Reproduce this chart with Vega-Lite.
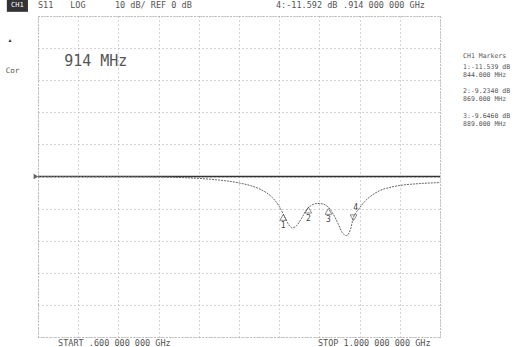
{
  "$schema": "https://vega.github.io/schema/vega-lite/v6.json",
  "autosize": {"type": "none"},
  "width": 402,
  "height": 321,
  "padding": {"left": 38, "top": 16, "right": 80, "bottom": 10},
  "background": "white",
  "config": {"view": {"stroke": "#999", "strokeDash": [1, 2]}},
  "datasets": {
    "trace": [
      {"f": 0.60, "db": 0}, {"f": 0.66, "db": -0.05}, {"f": 0.70, "db": -0.1}, {"f": 0.74, "db": -0.3},
      {"f": 0.76, "db": -0.6}, {"f": 0.78, "db": -1.1}, {"f": 0.80, "db": -2.0}, {"f": 0.815, "db": -3.2},
      {"f": 0.825, "db": -4.6}, {"f": 0.833, "db": -6.5}, {"f": 0.840, "db": -9.3}, {"f": 0.845, "db": -12.3},
      {"f": 0.849, "db": -14.8}, {"f": 0.853, "db": -16.0}, {"f": 0.857, "db": -15.4}, {"f": 0.862, "db": -13.2},
      {"f": 0.867, "db": -10.4}, {"f": 0.872, "db": -9.0}, {"f": 0.878, "db": -8.4}, {"f": 0.884, "db": -8.6},
      {"f": 0.889, "db": -9.6}, {"f": 0.894, "db": -11.8}, {"f": 0.899, "db": -15.0}, {"f": 0.903, "db": -17.6},
      {"f": 0.907, "db": -18.4}, {"f": 0.911, "db": -16.4}, {"f": 0.914, "db": -12.6}, {"f": 0.917, "db": -11.0},
      {"f": 0.920, "db": -9.8}, {"f": 0.925, "db": -7.8}, {"f": 0.930, "db": -6.4}, {"f": 0.940, "db": -4.4},
      {"f": 0.950, "db": -3.4}, {"f": 0.960, "db": -2.8}, {"f": 0.980, "db": -2.2}, {"f": 1.00, "db": -1.9}
    ],
    "markers": [
      {"f": 0.844, "db": -11.5, "id": "1", "act": "no"},
      {"f": 0.869, "db": -9.23, "id": "2", "act": "no"},
      {"f": 0.889, "db": -9.65, "id": "3", "act": "no"},
      {"f": 0.914, "db": -11.59, "id": "4", "act": "yes"}
    ],
    "texts": [
      {"f": 0.600, "db": 53.3, "t": "S11", "s": 8.5},
      {"f": 0.632, "db": 53.3, "t": "LOG", "s": 8.5},
      {"f": 0.6766, "db": 53.3, "t": "10 dB/ REF 0 dB", "s": 8.5},
      {"f": 0.8368, "db": 53.3, "t": "4:-11.592 dB", "s": 8.5},
      {"f": 0.9035, "db": 53.3, "t": ".914 000 000 GHz", "s": 8.5},
      {"f": 1.023, "db": 37.4, "t": "CH1 Markers", "s": 6.5},
      {"f": 1.023, "db": 34.0, "t": "1:-11.539 dB", "s": 6.5},
      {"f": 1.023, "db": 31.7, "t": "844.000 MHz", "s": 6.5},
      {"f": 1.023, "db": 26.5, "t": "2:-9.2340 dB", "s": 6.5},
      {"f": 1.023, "db": 24.2, "t": "869.000 MHz", "s": 6.5},
      {"f": 1.023, "db": 18.7, "t": "3:-9.6460 dB", "s": 6.5},
      {"f": 1.023, "db": 16.4, "t": "889.000 MHz", "s": 6.5},
      {"f": 0.568, "db": 33.0, "t": "Cor", "s": 7.5},
      {"f": 0.620, "db": -51.8, "t": "START .600 000 000 GHz", "s": 8.5},
      {"f": 0.8786, "db": -51.8, "t": "STOP 1.000 000 000 GHz", "s": 8.5}
    ]
  },
  "encoding": {
    "x": {"field": "f", "type": "quantitative", "scale": {"domain": [0.6, 1.0], "nice": false, "zero": false},
      "axis": {"values": [0.6, 0.64, 0.68, 0.72, 0.76, 0.8, 0.84, 0.88, 0.92, 0.96, 1.0], "labels": false, "ticks": false, "domain": false, "title": null, "grid": true, "gridColor": "#aaa", "gridDash": [1, 3]}},
    "y": {"field": "db", "type": "quantitative", "scale": {"domain": [-50, 50], "nice": false},
      "axis": {"values": [-50, -40, -30, -20, -10, 0, 10, 20, 30, 40, 50], "labels": false, "ticks": false, "domain": false, "title": null, "grid": true, "gridColor": "#aaa", "gridDash": [1, 3]}}
  },
  "layer": [
    {
      "data": {"values": [{"f": 0.6, "db": 0}, {"f": 1.0, "db": 0}]},
      "mark": {"type": "line", "color": "#333", "strokeWidth": 1.5, "clip": false}
    },
    {
      "data": {"name": "trace"},
      "mark": {"type": "line", "color": "#666", "strokeWidth": 1, "strokeDash": [2, 1], "interpolate": "monotone"}
    },
    {
      "data": {"values": [{"f": 0.598, "db": 0}]},
      "mark": {"type": "point", "shape": "triangle-right", "filled": true, "color": "#222", "size": 30, "clip": false}
    },
    {
      "data": {"name": "markers"},
      "transform": [{"filter": "datum.act == 'no'"}],
      "mark": {"type": "point", "shape": "triangle-up", "filled": false, "color": "#333", "size": 45, "strokeWidth": 0.8, "yOffset": 4}
    },
    {
      "data": {"name": "markers"},
      "transform": [{"filter": "datum.act == 'no'"}],
      "mark": {"type": "text", "font": "DejaVu Sans Mono", "fontSize": 8, "fill": "#444", "dy": 13},
      "encoding": {"text": {"field": "id"}}
    },
    {
      "data": {"name": "markers"},
      "transform": [{"filter": "datum.act == 'yes'"}],
      "mark": {"type": "point", "shape": "triangle-down", "filled": false, "color": "#333", "size": 45, "strokeWidth": 0.8, "yOffset": 4}
    },
    {
      "data": {"name": "markers"},
      "transform": [{"filter": "datum.act == 'yes'"}],
      "mark": {"type": "text", "font": "DejaVu Sans Mono", "fontSize": 8, "fill": "#444", "dy": -6, "dx": 2},
      "encoding": {"text": {"field": "id"}}
    },
    {
      "data": {"values": [{"f": 0.569, "f2": 0.590, "db": 51.3, "db2": 55.4}]},
      "mark": {"type": "rect", "color": "#333", "clip": false},
      "encoding": {"x2": {"field": "f2"}, "y2": {"field": "db2"}}
    },
    {
      "data": {"values": [{"f": 0.5795, "db": 53.3, "t": "CH1"}]},
      "mark": {"type": "text", "font": "DejaVu Sans Mono", "fontSize": 7, "fill": "white", "align": "center", "baseline": "middle", "clip": false},
      "encoding": {"text": {"field": "t"}}
    },
    {
      "data": {"values": [{"f": 0.572, "db": 42.4, "t": "▲"}]},
      "mark": {"type": "text", "fontSize": 5, "fill": "#333", "align": "center", "baseline": "middle", "clip": false},
      "encoding": {"text": {"field": "t"}}
    },
    {
      "data": {"values": [{"f": 0.626, "db": 36.1, "t": "914 MHz"}]},
      "mark": {"type": "text", "font": "DejaVu Sans Mono", "fontSize": 15, "fill": "#555", "align": "left", "baseline": "middle"},
      "encoding": {"text": {"field": "t"}}
    },
    {
      "data": {"name": "texts"},
      "mark": {"type": "text", "font": "DejaVu Sans Mono", "fill": "#555", "align": "left", "baseline": "middle", "clip": false},
      "encoding": {"text": {"field": "t"}, "size": {"field": "s", "type": "quantitative", "scale": null}}
    }
  ]
}
